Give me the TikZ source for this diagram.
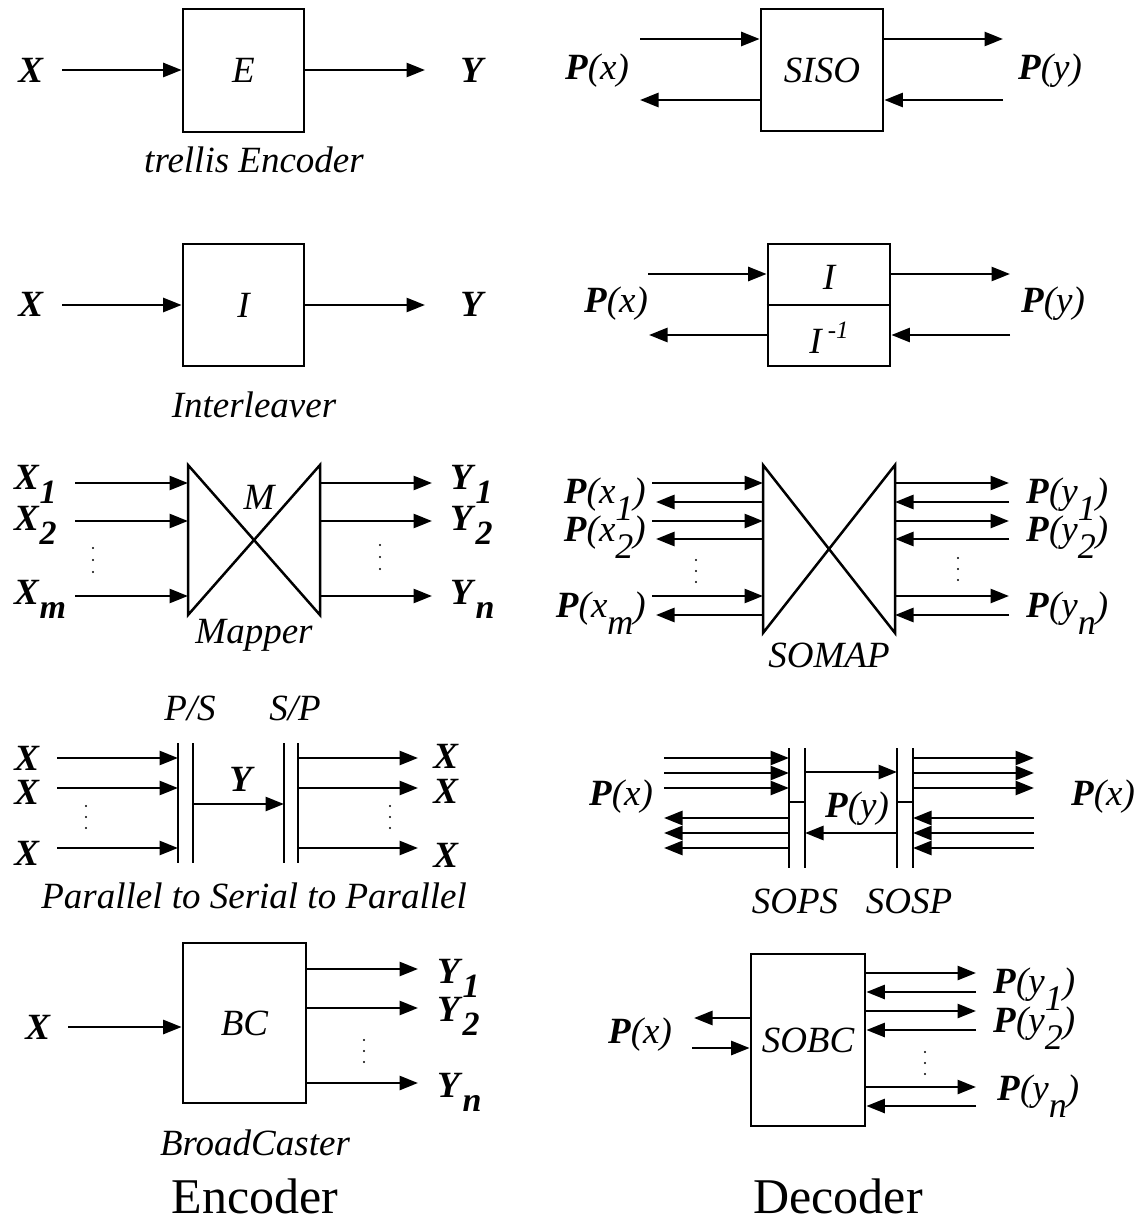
\documentclass[tikz,border=0pt]{standalone}
\usepackage{fontspec}
\setmainfont{Liberation Serif}
\usetikzlibrary{arrows.meta}
\newcommand\lf{\fontsize{37}{40}\selectfont}
\newcommand\bigf{\fontsize{50}{54}\selectfont}
\newcommand\bi[1]{\textbf{\textit{#1}}}
\newcommand\sbb[1]{\raisebox{-14pt}{\fontsize{34}{36}\selectfont\bfseries\itshape #1}}
\newcommand\sbi[1]{\raisebox{-17pt}{\fontsize{36}{38}\selectfont\itshape #1}}
\newcommand\Pof[1]{\bi{P}\textit{(#1)}}
\newcommand\Psub[2]{\bi{P}\textit{(#1}\sbi{#2}\textit{)}}
\begin{document}
\begin{tikzpicture}[x=1pt,y=-1pt,
  arr/.style={line width=2.7pt,-{Triangle[length=18.5pt,width=14pt]}},
  ln/.style={line width=2.7pt},
  blk/.style={draw,line width=2.7pt,inner sep=0pt,font=\lf\itshape},
  lab/.style={inner sep=0pt,font=\lf},
  captxt/.style={inner sep=0pt,font=\lf\itshape},
  bigtxt/.style={inner sep=0pt,font=\bigf}]
\useasboundingbox (0,0) rectangle (1145,1222);

% ---------- Row 1 left: trellis encoder
\node[blk,minimum width=121pt,minimum height=123pt] (E) at (243.5,70.5) {E};
\node[lab] (EX) at (31,70) {\bi{X}};
\node[lab] (EY) at (473,70) {\bi{Y}};
\coordinate (Ein) at (62,70);
\coordinate (Eout) at (425,70);
\draw[arr] (Ein) -- (Ein -| E.west);
\draw[arr] (Eout -| E.east) -- (Eout);
\node[captxt] (Ecap) at (254,160) {trellis Encoder};

% ---------- Row 1 right: SISO
\node[blk,minimum width=122pt,minimum height=122pt] (S) at (822,70) {SISO};
\coordinate (Sa) at (640,39);
\coordinate (Sb) at (640,100);
\coordinate (Sc) at (1003,39);
\coordinate (Sd) at (1003,100);
\draw[arr] (Sa) -- (Sa -| S.west);
\draw[arr] (Sb -| S.west) -- (Sb);
\draw[arr] (Sc -| S.east) -- (Sc);
\draw[arr] (Sd) -- (Sd -| S.east);
\node[lab] (SPx) at (597,71) {\Pof{x}};
\node[lab] (SPy) at (1050,71) {\Pof{y}};

% ---------- Row 2 left: interleaver
\node[blk,minimum width=121pt,minimum height=122pt] (I) at (243.5,305) {I};
\node[lab] (IX) at (31,304) {\bi{X}};
\node[lab] (IY) at (473,304) {\bi{Y}};
\coordinate (Iin) at (62,305);
\coordinate (Iout) at (425,305);
\draw[arr] (Iin) -- (Iin -| I.west);
\draw[arr] (Iout -| I.east) -- (Iout);
\node[captxt] (Icap) at (254,405) {Interleaver};

% ---------- Row 2 right: I / I^-1
\node[draw,ln,inner sep=0pt,minimum width=122pt,minimum height=122pt] (II) at (829,305) {};
\draw[ln] (II.west) -- (II.east);
\node[captxt] (IIt) at (829,277) {I};
\node[captxt] (IIb) at (829,338) {I\,\raisebox{15pt}{\fontsize{25}{26}\selectfont\itshape -1}};
\coordinate (IIa) at (648,274);
\coordinate (IIb2) at (649,335);
\coordinate (IIc) at (1010,274);
\coordinate (IId) at (1010,335);
\draw[arr] (IIa) -- (IIa -| II.west);
\draw[arr] (IIb2 -| II.west) -- (IIb2);
\draw[arr] (IIc -| II.east) -- (IIc);
\draw[arr] (IId) -- (IId -| II.east);
\node[lab] (IIPx) at (616,304) {\Pof{x}};
\node[lab] (IIPy) at (1053,304) {\Pof{y}};

% ---------- Row 3 left: mapper
\coordinate (ma) at (188,465);
\coordinate (mb) at (188,615);
\coordinate (mc) at (320,465);
\coordinate (md) at (320,615);
\draw[line width=2.5pt,line join=miter] (ma) -- (mb) -- (mc) -- (md) -- cycle;
\foreach \y [count=\i] in {483,521,596}{
  \coordinate (mi\i) at (75,\y);
  \coordinate (mo\i) at (432,\y);
  \draw[arr] (mi\i) -- (mi\i -| ma);
  \draw[arr] (mo\i -| mc) -- (mo\i);
}
\node[captxt] (Mlab) at (259,497) {M};
\node[captxt] (Mcap) at (254,635) {Mapper};
\node[lab,anchor=base west] (MX1) at (14,489) {\bi{X}\sbb{1}};
\node[lab,anchor=base west] (MX2) at (14,530) {\bi{X}\sbb{2}};
\node[lab,anchor=base west] (MXm) at (14,604) {\bi{X}\sbb{m}};
\node[lab,anchor=base west] (MY1) at (450,489) {\bi{Y}\sbb{1}};
\node[lab,anchor=base west] (MY2) at (450,530) {\bi{Y}\sbb{2}};
\node[lab,anchor=base west] (MYn) at (450,604) {\bi{Y}\sbb{n}};
\foreach \y in {548,560,572} \fill (93,\y) circle (1.2pt);
\foreach \y in {545,557,569} \fill (380,\y) circle (1.2pt);

% ---------- Row 3 right: SOMAP
\coordinate (sa) at (763,465);
\coordinate (sb) at (763,633);
\coordinate (sc) at (895,465);
\coordinate (sd) at (895,633);
\draw[line width=2.5pt,line join=miter] (sa) -- (sb) -- (sc) -- (sd) -- cycle;
\foreach \y [count=\i] in {483,521,596}{
  \coordinate (si\i) at (652,\y);
  \coordinate (so\i) at (1009,\y);
  \draw[arr] (si\i) -- (si\i -| sa);
  \draw[arr] (so\i -| sc) -- (so\i);
}
\foreach \y [count=\i] in {502,539,615}{
  \coordinate (sl\i) at (656,\y);
  \coordinate (sr\i) at (1009,\y);
  \draw[arr] (sl\i -| sa) -- (sl\i);
  \draw[arr] (sr\i) -- (sr\i -| sc);
}
\node[lab,anchor=base east] (SMx1) at (646,503) {\Psub{x}{1}};
\node[lab,anchor=base east] (SMx2) at (646,541) {\Psub{x}{2}};
\node[lab,anchor=base east] (SMxm) at (646,617) {\Psub{x}{m}};
\node[lab,anchor=base west] (SMy1) at (1026,503) {\Psub{y}{1}};
\node[lab,anchor=base west] (SMy2) at (1026,541) {\Psub{y}{2}};
\node[lab,anchor=base west] (SMyn) at (1026,617) {\Psub{y}{n}};
\foreach \y in {560,571,582} \fill (696,\y) circle (1.2pt);
\foreach \y in {558,569,580} \fill (958,\y) circle (1.2pt);
\node[captxt] (SMcap) at (829,655) {SOMAP};

% ---------- Row 4 left: P/S, S/P
\coordinate (psa) at (178,743); \coordinate (psb) at (178,863);
\coordinate (psc) at (193,743); \coordinate (psd) at (193,863);
\coordinate (spa) at (284,743); \coordinate (spb) at (284,863);
\coordinate (spc) at (298,743); \coordinate (spd) at (298,863);
\draw[ln] (psa) -- (psb);
\draw[ln] (psc) -- (psd);
\draw[ln] (spa) -- (spb);
\draw[ln] (spc) -- (spd);
\foreach \y [count=\i] in {758,788,848}{
  \coordinate (pi\i) at (57,\y);
  \coordinate (po\i) at (418,\y);
  \draw[arr] (pi\i) -- (pi\i -| psa);
  \draw[arr] (po\i -| spc) -- (po\i);
}
\coordinate (pser) at (240,804);
\draw[arr] (pser -| psc) -- (pser -| spa);
\node[captxt] (PSlab) at (190,708) {P/S};
\node[captxt] (SPlab) at (295,708) {S/P};
\node[lab] (PSY) at (242,779) {\bi{Y}};
\node[lab] (PX1) at (27,758) {\bi{X}};
\node[lab] (PX2) at (27,792) {\bi{X}};
\node[lab] (PX3) at (27,853) {\bi{X}};
\node[lab] (PX4) at (446,756) {\bi{X}};
\node[lab] (PX5) at (446,791) {\bi{X}};
\node[lab] (PX6) at (446,855) {\bi{X}};
\foreach \y in {806,817,828} \fill (86,\y) circle (1.2pt);
\foreach \y in {806,817,828} \fill (390,\y) circle (1.2pt);
\node[captxt] (PScap) at (254,896) {Parallel to Serial to Parallel};

% ---------- Row 4 right: SOPS, SOSP
\coordinate (opa) at (789,748); \coordinate (opb) at (789,868);
\coordinate (opc) at (805,748); \coordinate (opd) at (805,868);
\coordinate (osa) at (897,748); \coordinate (osb) at (897,868);
\coordinate (osc) at (913,748); \coordinate (osd) at (913,868);
\coordinate (opm) at (797,802); \coordinate (osm) at (905,802);
\draw[ln] (opa) -- (opb);
\draw[ln] (opc) -- (opd);
\draw[ln] (osa) -- (osb);
\draw[ln] (osc) -- (osd);
\draw[ln] (opm -| opa) -- (opm -| opc);
\draw[ln] (osm -| osa) -- (osm -| osc);
\foreach \y [count=\i] in {758,773,788}{
  \coordinate (ol\i) at (664,\y);
  \coordinate (or\i) at (1034,\y);
  \draw[arr] (ol\i) -- (ol\i -| opa);
  \draw[arr] (or\i -| osc) -- (or\i);
}
\foreach \y [count=\i] in {818,833,848}{
  \coordinate (oL\i) at (664,\y);
  \coordinate (oR\i) at (1034,\y);
  \draw[arr] (oL\i -| opa) -- (oL\i);
  \draw[arr] (oR\i) -- (oR\i -| osc);
}
\coordinate (omf) at (850,772);
\coordinate (omb) at (850,833);
\draw[arr] (omf -| opc) -- (omf -| osa);
\draw[arr] (omb -| osa) -- (omb -| opc);
\node[lab] (OPx) at (621,797) {\Pof{x}};
\node[lab] (OPy) at (857,809) {\Pof{y}};
\node[lab] (OPx2) at (1103,797) {\Pof{x}};
\node[captxt] (OPcap) at (795,901) {SOPS};
\node[captxt] (OScap) at (909,901) {SOSP};

% ---------- Row 5 left: broadcaster
\node[blk,minimum width=123pt,minimum height=160pt] (BC) at (244.5,1023) {BC};
\node[lab] (BX) at (38,1027) {\bi{X}};
\coordinate (Bin) at (68,1027);
\draw[arr] (Bin) -- (Bin -| BC.west);
\foreach \y [count=\i] in {969,1008,1083}{
  \coordinate (bo\i) at (418,\y);
  \draw[arr] (bo\i -| BC.east) -- (bo\i);
}
\node[lab,anchor=base west] (BY1) at (437,983) {\bi{Y}\sbb{1}};
\node[lab,anchor=base west] (BY2) at (437,1021) {\bi{Y}\sbb{2}};
\node[lab,anchor=base west] (BYn) at (437,1097) {\bi{Y}\sbb{n}};
\foreach \y in {1040,1051,1062} \fill (364,\y) circle (1.2pt);
\node[captxt] (Bcap) at (255,1143) {BroadCaster};
\node[bigtxt] (Enc) at (255,1196) {Encoder};

% ---------- Row 5 right: SOBC
\node[blk,minimum width=114pt,minimum height=172pt] (SB) at (808,1040) {SOBC};
\coordinate (SBo) at (694,1018);
\coordinate (SBi) at (692,1048);
\draw[arr] (SBo -| SB.west) -- (SBo);
\draw[arr] (SBi) -- (SBi -| SB.west);
\node[lab] (SBPx) at (640,1035) {\Pof{x}};
\foreach \y [count=\i] in {973,1011,1087}{
  \coordinate (sbo\i) at (976,\y);
  \draw[arr] (sbo\i -| SB.east) -- (sbo\i);
}
\foreach \y [count=\i] in {992,1030,1106}{
  \coordinate (sbi\i) at (976,\y);
  \draw[arr] (sbi\i) -- (sbi\i -| SB.east);
}
\node[lab,anchor=base west] (SBy1) at (993,993) {\Psub{y}{1}};
\node[lab,anchor=base west] (SBy2) at (993,1032) {\Psub{y}{2}};
\node[lab,anchor=base west] (SByn) at (997,1100) {\Psub{y}{n}};
\foreach \y in {1052,1063,1074} \fill (925,\y) circle (1.2pt);
\node[bigtxt] (Dec) at (838,1196) {Decoder};
\end{tikzpicture}
\end{document}
